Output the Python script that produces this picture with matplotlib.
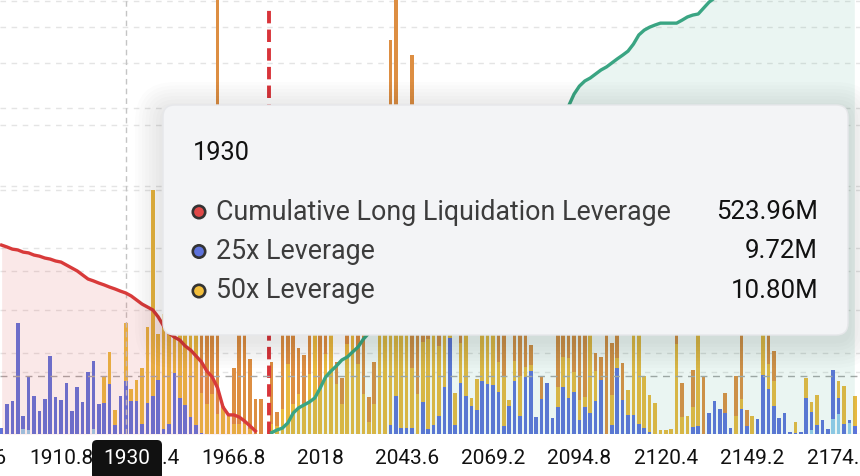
import numpy as np
import matplotlib
matplotlib.use('Agg')
import matplotlib.pyplot as plt
from matplotlib.patches import FancyBboxPatch, Circle
from matplotlib.ticker import MultipleLocator
from matplotlib.transforms import Affine2D

plt.rcParams['font.family'] = ['Roboto', 'DejaVu Sans']

# liquidation volume per price bin (M), one entry per bar
lev10 = [0, 0, 0, 0, 0.9, 0.7, 0, 0, 0, 0,
         0, 0, 0, 0, 0, 0, 0, 0.9, 0, 0,
         0, 0, 0, 0, 0, 0, 0, 0, 0, 0,
         0, 0, 0, 0, 0, 0, 0, 0, 0, 0,
         0, 0, 0, 0, 0, 0, 0, 0, 0, 0,
         0, 0, 0, 0, 0, 0, 0, 0, 0, 0,
         0, 0, 0, 0, 0, 0, 0, 0, 0, 0,
         0, 0, 0, 0, 0, 0, 0, 0, 0, 0,
         0, 0, 0, 0, 0, 0, 0, 0, 0, 0,
         0, 0, 0, 0, 0, 0, 0, 0, 0, 0,
         0, 0, 0, 0, 0, 0, 0, 0, 0, 0,
         0, 0, 0, 0, 0, 0, 0, 0, 0, 0,
         0, 0, 0, 0, 0, 0, 0, 0, 0, 0,
         0, 0, 0, 0, 0, 0, 0, 0, 0, 0,
         0, 0, 0, 0, 0, 0, 0, 0, 0, 0,
         0.8, 0, 0, 0, 2.8, 3.7, 0, 2.0, 0]

lev25 = [1.1, 5.5, 6.1, 20.4, 2.4, 9.9, 7.0, 4.2, 6.4, 14.4,
         6.8, 6.3, 9.4, 4.2, 8.7, 5.9, 11.4, 12.5, 5.5, 5.7,
         9.2, 1.7, 7.0, 9.72, 6.1, 6.1, 1.8, 5.7, 7.0, 9.9,
         0.9, 1.8, 11.2, 6.6, 5.3, 3.1, 1.7, 0.2, 0, 0,
         0, 0, 0, 0, 0, 0, 0, 0, 0, 0,
         0, 0, 0, 0, 0, 0, 0, 0, 0, 0,
         0, 0, 0, 0, 0, 0, 0, 0, 0, 0,
         0, 0, 1.7, 7.0, 1.1, 1.1, 1.1, 0, 5.9, 0.9,
         1.7, 3.3, 8.7, 17.7, 1.7, 9.4, 7.0, 5.2, 4.4, 9.8,
         9.2, 9.0, 7.7, 1.5, 5.2, 9.8, 3.3, 10.5, 11.6, 3.1,
         6.4, 9.4, 2.9, 5.0, 8.7, 6.6, 7.7, 2.6, 5.0, 3.9,
         6.1, 9.9, 0, 1.7, 12.2, 6.3, 3.5, 3.5, 1.8, 1.1,
         0.4, 0, 0, 0, 0, 0, 0, 0, 1.3, 1.5,
         0, 3.9, 6.1, 4.6, 3.9, 1.1, 0, 4.6, 1.5, 0,
         2.8, 10.9, 8.3, 5.2, 2.9, 3.9, 0.4, 0.2, 0.4, 6.6,
         3.3, 1.7, 2.6, 0.9, 9.0, 2.9, 1.8, 0.5, 1.5]

lev50 = [0, 0, 0, 0, 0, 0, 0, 0, 0, 0,
         0, 0, 0, 0, 0, 0, 0, 0, 0, 4.8,
         5.9, 2.8, 0, 10.80, 2.2, 3.9, 10.3, 14.0, 37.9, 8.5,
         21.2, 22.1, 14.5, 16.4, 14.9, 24.5, 19.5, 7.4, 5.5, 7.4,
         3.7, 5.2, 3.7, 1.8, 1.8, 1.8, 0.9, 0, 0, 0,
         1.8, 1.5, 4.6, 12.9, 5.5, 7.4, 5.5, 11.0, 20.3, 8.3,
         14.7, 18.4, 9.2, 5.5, 16.6, 22.1, 12.9, 7.4, 2.2, 5.5,
         23.9, 20.3, 18.4, 14.7, 17.5, 20.3, 11.0, 7.4, 11.0, 16.6,
         20.3, 12.9, 11.0, 3.7, 5.9, 7.4, 12.9, 1.5, 5.7, 11.0,
         12.9, 11.0, 5.5, 9.2, 1.1, 3.7, 7.4, 1.8, 1.1, 0,
         0, 0, 0, 3.7, 5.5, 7.4, 3.7, 3.7, 1.8, 18.4,
         5.5, 0, 0, 5.5, 1.8, 0, 4.6, 20.3, 22.1, 9.6,
         6.8, 5.7, 0.7, 0.7, 0.9, 16.6, 3.1, 3.3, 3.7, 20.3,
         0, 0, 0, 0, 0, 0, 3.3, 1.8, 0, 3.3,
         0, 14.7, 4.6, 4.6, 0, 0, 0, 2.0, 0, 3.7,
         1.8, 5.5, 0, 0, 0, 3.1, 7.0, 0, 5.5]

lev100 = [0, 0, 0, 0, 0, 0, 0, 0, 0, 0,
          0, 0, 0, 0, 0, 0, 0, 0, 0, 0,
          0, 0, 0, 0, 0, 0, 0, 0, 0, 0,
          0, 0, 0, 0, 0, 0, 0, 14.7, 18.4, 16.6,
          82.9, 0, 0, 10.3, 22.1, 21.2, 12.9, 6.4, 6.4, 0,
          11.4, 2.6, 17.5, 11.0, 16.6, 8.5, 9.0, 12.9, 3.7, 15.7,
          8.3, 5.5, 4.1, 4.8, 7.4, 1.8, 11.0, 16.6, 4.6, 7.7,
          0, 2.8, 52.5, 64.5, 3.7, 1.8, 57.6, 14.7, 7.4, 5.5,
          1.8, 7.4, 1.8, 0, 0, 5.5, 1.8, 0, 0, 1.8,
          0, 1.8, 7.4, 11.0, 0, 9.2, 11.0, 9.2, 3.7, 0,
          4.1, 0, 0, 14.7, 9.2, 7.4, 11.0, 12.9, 16.6, 0,
          3.3, 4.2, 23.9, 9.6, 9.2, 6.8, 0, 0, 0, 0,
          0, 0, 0, 0, 0, 5.5, 6.3, 0, 6.8, 0,
          10.5, 0, 0, 0, 3.7, 0, 7.4, 18.4, 2.9, 0,
          0, 0, 12.9, 5.5, 0, 0, 0, 0, 0, 0,
          0, 0, 0, 0, 0, 0, 0, 0, 0]

# cumulative liquidation (M)
cum_long = [702, 695, 687, 684, 676, 673, 665, 661, 654, 650,
            643, 639, 628, 617, 606, 591, 576, 569, 561, 554,
            546, 539, 531, 523.96, 513, 498, 483, 472, 461, 435,
            401, 375, 360, 349, 327, 312, 290, 268, 234, 212,
            171, 100, 71, 71, 63, 48, 30, 11]

cum_short = [5, 15, 22, 41, 78, 97, 108, 119, 134, 171,
             212, 234, 253, 275, 286, 305, 323, 353, 375, 398,
             418, 446, 462, 497, 515, 548, 566, 588, 612, 625,
             654, 671, 690, 722, 735, 766, 780, 812, 833, 861,
             877, 910, 925, 955, 970, 1001, 1015, 1047, 1062, 1092,
             1104, 1133, 1149, 1178, 1195, 1219, 1263, 1293, 1312, 1323,
             1338, 1353, 1364, 1379, 1394, 1408, 1423, 1449, 1483, 1501,
             1512, 1520, 1527, 1527, 1527, 1527, 1538, 1550, 1557, 1561,
             1583, 1605, 1620, 1632, 1643, 1655, 1668, 1676, 1689, 1702,
             1710, 1721, 1735, 1748, 1756, 1769, 1781, 1790, 1802, 1815,
             1824, 1836, 1849, 1857, 1866, 1878, 1889, 1897, 1906]
SHORT_START = 50

tick_pos = [-5, 11, 27, 43, 59, 75, 91, 107, 123, 139, 155]
tick_labels = ['1885.6', '1910.8', '1936.4', '1966.8', '2018', '2043.6',
               '2069.2', '2094.8', '2120.4', '2149.2', '2174.8']

CURRENT = 49.5       # current price marker (between bins)
HOVER = 23           # hovered bin
HOVER_Y = 10.7       # crosshair height (M)
hover_label = '1930'
tip_names = ['Cumulative Long Liquidation Leverage', '25x Leverage', '50x Leverage']
tip_values = ['523.96M', '9.72M', '10.80M']
tip_colors = ['#e04848', '#5d72dc', '#f2be3c']

C10, C25, C50, C100 = '#95cdee', '#5d72dc', '#e9b940', '#dd8e42'
RED, GREEN = '#d83a3a', '#3aa583'

fig = plt.figure(figsize=(8.6, 4.76), dpi=100)
ax = fig.add_axes([0, 42 / 476, 1, 434 / 476])
Y1, Y2 = 79.9, 1613

x = np.arange(len(lev25))
a10, a25, a50, a100 = map(np.array, (lev10, lev25, lev50, lev100))
w = 0.66
ax.bar(x, a10, w, color=C10, lw=0, zorder=2)
ax.bar(x, a25, w, bottom=a10, color=C25, lw=0, zorder=2)
ax.bar(x, a50, w, bottom=a10 + a25, color=C50, lw=0, zorder=2)
ax.bar(x, a100, w, bottom=a10 + a25 + a50, color=C100, lw=0, zorder=2)

ax.set_xlim(-0.3, 158.96)
ax.set_ylim(0, Y1)
ax.yaxis.set_major_locator(MultipleLocator(15))
ax.grid(axis='y', color='#e4e4e4', ls=(0, (4, 4)), lw=1)
ax.set_axisbelow(True)
for v in np.arange(230, Y2, 230):
    ax.axhline(v * Y1 / Y2, color='#e4e4e4', ls=(0, (4, 4)), lw=1, zorder=0.5)
ax.tick_params(length=0, labelleft=False, labelbottom=False)
for s in ax.spines.values():
    s.set_visible(False)

# current price & crosshair
ax.axvline(CURRENT, ymax=(434 - 5) / 434, color='#d8343a', lw=2.8,
           dashes=(3.2, 1.6), zorder=4)
ax.axvline(HOVER, color='#c4c4c4', lw=1, ls=(0, (4, 3)), zorder=4)
ax.axhline(HOVER_Y, color='#a8a8a8', lw=1, ls=(0, (5, 4)), zorder=4)

ax2 = ax.twinx()
ax2.set_ylim(0, Y2)
ax2.axis('off')
xl = np.arange(len(cum_long))
xs = np.arange(SHORT_START, SHORT_START + len(cum_short))
ax2.fill_between(xl, 0, cum_long, color='#e05050', alpha=0.13, lw=0)
ax2.fill_between(xs, 0, cum_short, color=GREEN, alpha=0.1, lw=0)
ax2.plot(xl, cum_long, color=RED, lw=2.4, solid_joinstyle='round')
ax2.plot(xs, cum_short, color=GREEN, lw=2.4, solid_joinstyle='round')

# x labels
for p, lab in zip(tick_pos, tick_labels):
    ax.text(p, -24 / 434, lab, transform=ax.get_xaxis_transform(),
            ha='center', va='center', fontsize=15, color='#111111', clip_on=False)

# pixel transform (top-left origin)
px = Affine2D().scale(0.01, -0.01).translate(0, 4.76) + fig.dpi_scale_trans

# hovered x label
fig.add_artist(FancyBboxPatch((92, 440), 70, 40, boxstyle='round,pad=0,rounding_size=5',
                              fc='#111111', ec='none', transform=px))
fig.text(127, 458, hover_label, transform=px, ha='center', va='center',
         fontsize=15, color='white')

# tooltip with soft shadow
tx, ty, tw, th = 163, 105, 685, 230
for k in range(1, 9):
    s = k * 3.5
    fig.add_artist(FancyBboxPatch((tx - s, ty - s + 5), tw + 2 * s, th + 2 * s,
                                  boxstyle=f'round,pad=0,rounding_size={12 + s}',
                                  fc='black', ec='none', alpha=0.011, transform=px))
fig.add_artist(FancyBboxPatch((tx, ty), tw, th, boxstyle='round,pad=0,rounding_size=12',
                              fc='#f3f4f6', ec='#e6e7ea', lw=1, transform=px))
fig.text(193, 153, hover_label, transform=px, ha='left', va='center',
         fontsize=18.3, color='#111111')
for i, (nm, val, col) in enumerate(zip(tip_names, tip_values, tip_colors)):
    yy = 212 + i * 39.5
    fig.add_artist(Circle((199, yy), 6.2, fc=col, ec='#333333', lw=1.9, transform=px))
    fig.text(216, yy, nm, transform=px, ha='left', va='center',
             fontsize=19.3, color='#3c3c3c')
    fig.text(818, yy, val, transform=px, ha='right', va='center',
             fontsize=18.6, color='#111111')

fig.savefig('out.png', dpi=100)
